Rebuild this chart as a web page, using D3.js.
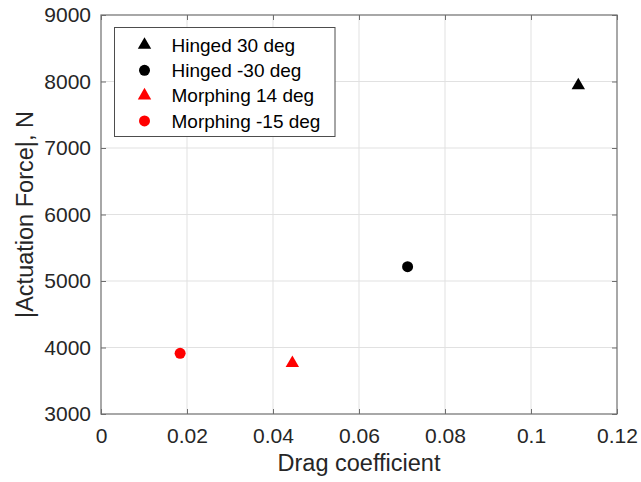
<!DOCTYPE html>
<html>
<head>
<meta charset="utf-8">
<script src="https://cdn.jsdelivr.net/npm/d3@7/dist/d3.min.js"></script>
<style>
  html, body { margin: 0; padding: 0; background: #fff; }
  svg { display: block; font-family: "Liberation Sans", Arial, Helvetica, sans-serif; }
</style>
</head>
<body>
<svg id="chart" width="641" height="482"></svg>
<script>
// Series shown in the scatter plot
const seriesNames  = ["Hinged 30 deg", "Hinged -30 deg", "Morphing 14 deg", "Morphing -15 deg"];
const seriesColors = ["#000000", "#000000", "#ff0000", "#ff0000"];
const seriesShapes = ["triangle", "circle", "triangle", "circle"];
const dragCoeff    = [0.1110, 0.0713, 0.0445, 0.0184];
const actuationN   = [7940, 5215, 3765, 3913];

// Axis ticks
const xTicks = [0, 0.02, 0.04, 0.06, 0.08, 0.1, 0.12];
const yTicks = [3000, 4000, 5000, 6000, 7000, 8000, 9000];

const svg = d3.select("#chart");
const margin = { left: 101, top: 15, right: 24, bottom: 68 };
const W = 641 - margin.left - margin.right;
const H = 482 - margin.top - margin.bottom;

const x = d3.scaleLinear().domain([0, 0.12]).range([0, W]);
const y = d3.scaleLinear().domain([3000, 9000]).range([H, 0]);

const g = svg.append("g").attr("transform", `translate(${margin.left},${margin.top})`);

// grid
g.append("g").selectAll("line.gx").data(xTicks.slice(1, -1)).join("line")
  .attr("x1", d => x(d)).attr("x2", d => x(d)).attr("y1", 0).attr("y2", H)
  .attr("stroke", "#e1e1e1").attr("stroke-width", 1);
g.append("g").selectAll("line.gy").data(yTicks.slice(1, -1)).join("line")
  .attr("y1", d => y(d)).attr("y2", d => y(d)).attr("x1", 0).attr("x2", W)
  .attr("stroke", "#e1e1e1").attr("stroke-width", 1);

// axes: ticks point inward, box is mirrored on top/right
const axisColor = "#6e6e6e";
const tickLen = 5;
function styleAxis(sel) {
  sel.select(".domain").remove();
  sel.selectAll(".tick line").attr("stroke", axisColor);
  sel.selectAll(".tick text").attr("fill", "#262626").attr("font-size", 21)
     .attr("font-family", "'Liberation Sans', Arial, sans-serif");
}
const fmtX = d => d3.format("~g")(d);

g.append("g").attr("transform", `translate(0,${H})`)
  .call(d3.axisBottom(x).tickValues(xTicks).tickFormat(fmtX).tickSizeInner(-tickLen).tickSizeOuter(0).tickPadding(14))
  .call(styleAxis);
g.append("g")
  .call(d3.axisTop(x).tickValues(xTicks).tickFormat("").tickSizeInner(-tickLen).tickSizeOuter(0))
  .call(styleAxis);
g.append("g")
  .call(d3.axisLeft(y).tickValues(yTicks).tickFormat(d3.format("d")).tickSizeInner(-tickLen).tickSizeOuter(0).tickPadding(10))
  .call(styleAxis);
g.append("g").attr("transform", `translate(${W},0)`)
  .call(d3.axisRight(y).tickValues(yTicks).tickFormat("").tickSizeInner(-tickLen).tickSizeOuter(0))
  .call(styleAxis);

g.append("rect").attr("x", 0).attr("y", 0).attr("width", W).attr("height", H)
  .attr("fill", "none").attr("stroke", axisColor).attr("stroke-width", 1.2);

// axis labels
svg.append("text")
  .attr("x", margin.left + W / 2).attr("y", 471)
  .attr("text-anchor", "middle").attr("font-size", 23.5).attr("fill", "#262626")
  .text("Drag coefficient");
svg.append("text")
  .attr("transform", `translate(33,${margin.top + H / 2}) rotate(-90)`)
  .attr("text-anchor", "middle").attr("font-size", 23.5).attr("fill", "#262626")
  .text("|Actuation Force|, N");

// markers
const symbolFor = s => d3.symbol()
  .type(s === "triangle" ? d3.symbolTriangle : d3.symbolCircle)
  .size(s === "triangle" ? 78 : 95)();

const points = seriesNames.map((name, i) => ({
  name, color: seriesColors[i], shape: seriesShapes[i], cd: dragCoeff[i], f: actuationN[i]
}));

g.append("g").selectAll("path").data(points).join("path")
  .attr("d", d => symbolFor(d.shape))
  .attr("transform", d => `translate(${x(d.cd)},${y(d.f)})`)
  .attr("fill", d => d.color);

// legend
const legend = svg.append("g").attr("transform", "translate(114.5,27.5)");
legend.append("rect").attr("width", 220.5).attr("height", 109)
  .attr("fill", "#fff").attr("stroke", "#4d4d4d").attr("stroke-width", 1);
const rows = legend.selectAll("g.row").data(points).join("g")
  .attr("transform", (d, i) => `translate(0,${17.5 + i * 25.3})`);
rows.append("path")
  .attr("d", d => symbolFor(d.shape))
  .attr("transform", "translate(30,0)")
  .attr("fill", d => d.color);
rows.append("text")
  .attr("x", 57).attr("y", 0).attr("dy", "0.35em")
  .attr("font-size", 19).attr("fill", "#000")
  .text(d => d.name);
</script>
</body>
</html>
